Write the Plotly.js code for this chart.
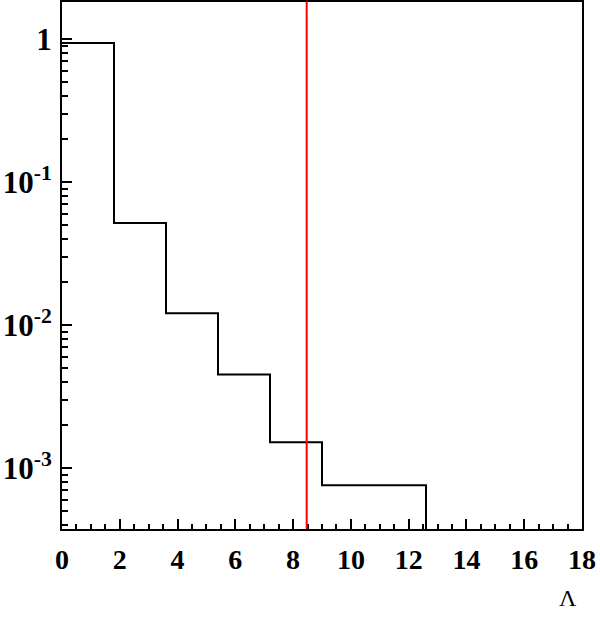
<!DOCTYPE html>
<html>
<head>
<meta charset="utf-8">
<script src="https://cdn.plot.ly/plotly-3.0.1.min.js"></script>
<style>
  html, body { margin: 0; padding: 0; background: #fff; }
  #graph { width: 600px; height: 617px; }
</style>
</head>
<body>
<div id="graph"></div>
<script>
// histogram bins (left edges) and bin contents
const binEdges = [0, 1.8, 3.6, 5.4, 7.2, 9.0, 10.8, 12.6];
const binValues = [0.94, 0.0518, 0.0121, 0.00453, 0.00152, 0.00076, 0.00076];
const emptyLevel = 1e-6; // empty bins, below the visible range
const cutValue = 8.47;   // red vertical line

const yTickVals = [1, 0.1, 0.01, 0.001];
const yExponents = ['', '-1', '-2', '-3'];
const xTickVals = [0, 2, 4, 6, 8, 10, 12, 14, 16, 18];

const stepY = binValues.concat([emptyLevel]);

const yTickText = yExponents.map(e => e === '' ? '1' : '10<sup>' + e + '</sup>');

const hist = {
  x: binEdges,
  y: stepY,
  mode: 'lines',
  line: { shape: 'hv', color: 'black', width: 2 },
  hoverinfo: 'skip'
};

const layout = {
  width: 600,
  height: 617,
  margin: { l: 62, r: 18, t: 2, b: 88 },
  paper_bgcolor: 'white',
  plot_bgcolor: 'white',
  showlegend: false,
  xaxis: {
    range: [0, 18],
    tickvals: xTickVals,
    ticktext: xTickVals.map(String),
    ticks: 'inside',
    ticklen: 10,
    tickwidth: 2,
    tickcolor: 'black',
    minor: { dtick: 0.5, ticks: 'inside', ticklen: 5, tickwidth: 2, tickcolor: 'black' },
    showgrid: false,
    zeroline: false,
    showline: true,
    linecolor: 'black',
    linewidth: 2,
    mirror: true,
    tickfont: { family: 'Liberation Serif, Times New Roman, serif', size: 28, color: 'black', weight: 700 },
    ticklabelstandoff: 4
  },
  yaxis: {
    type: 'log',
    range: [-3.425, 0.26],
    tickvals: yTickVals,
    ticktext: yTickText,
    ticks: 'inside',
    ticklen: 10,
    tickwidth: 2,
    tickcolor: 'black',
    minor: { dtick: 'D1', ticks: 'inside', ticklen: 6, tickwidth: 2, tickcolor: 'black' },
    showgrid: false,
    zeroline: false,
    showline: true,
    linecolor: 'black',
    linewidth: 2,
    mirror: true,
    tickfont: { family: 'Liberation Serif, Times New Roman, serif', size: 31, color: 'black', weight: 700 },
    ticklabelstandoff: 2
  },
  shapes: [{
    type: 'line',
    xref: 'x', yref: 'paper',
    x0: cutValue, x1: cutValue, y0: 0, y1: 1,
    line: { color: 'red', width: 2 }
  }],
  annotations: [{
    text: 'Λ',
    xref: 'paper', yref: 'paper',
    x: 0.995, y: -0.131,
    xanchor: 'right', yanchor: 'middle',
    showarrow: false,
    font: { family: 'Liberation Serif, Times New Roman, serif', size: 24, color: 'black' }
  }]
};

Plotly.newPlot('graph', [hist], layout, { staticPlot: true });
</script>
</body>
</html>
